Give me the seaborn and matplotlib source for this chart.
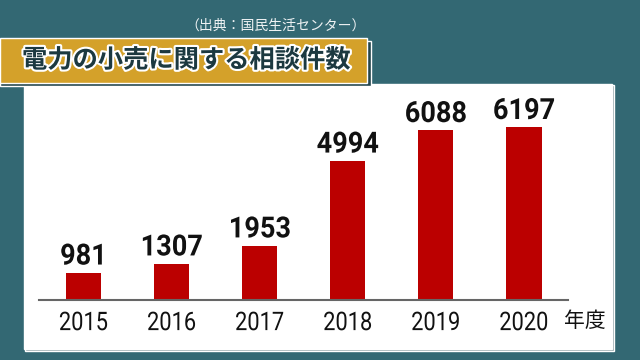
import matplotlib
matplotlib.use("Agg")
import matplotlib.pyplot as plt
import matplotlib.patheffects as pe
from matplotlib.patches import Rectangle
from matplotlib.transforms import Affine2D
import seaborn as sns
import pandas as pd

years = ["2015", "2016", "2017", "2018", "2019", "2020"]
counts = [981, 1307, 1953, 4994, 6088, 6197]
title = "電力の小売に関する相談件数"
source = "（出典：国民生活センター）"
unit = "年度"

sns.set_theme(style="white")
plt.rcParams['font.family'] = ['Noto Sans CJK JP', 'DejaVu Sans']

W, H = 640, 360
fig = plt.figure(figsize=(6.4, 3.6), dpi=100)
fig.patch.set_facecolor("#336873")


class Condense(pe.AbstractPathEffect):
    """Draw text horizontally condensed around its own centre."""
    def __init__(self, sx=0.76):
        super().__init__()
        self.sx = sx

    def draw_path(self, renderer, gc, tpath, affine, rgbFace=None):
        ext = tpath.get_extents()
        cx = (ext.x0 + ext.x1) / 2
        t = Affine2D().translate(-cx, 0).scale(self.sx, 1).translate(cx, 0) + affine
        renderer.draw_path(gc, tpath, t, rgbFace)


def px(x, y, w, h):
    return (x / W, 1 - (y + h) / H, w / W, h / H)

# panel shadow + white panel
x0, y0, w0, h0 = px(25, 85, 589, 266)
fig.patches.append(Rectangle((x0, y0), w0, h0, transform=fig.transFigure, facecolor="#8c9ea3", zorder=0))
x0, y0, w0, h0 = px(24, 84, 588, 265)
fig.patches.append(Rectangle((x0, y0), w0, h0, transform=fig.transFigure, facecolor="white", zorder=0))

# title box shadow + box
x0, y0, w0, h0 = px(0, 41, 371, 45)
fig.patches.append(Rectangle((x0, y0), w0, h0, transform=fig.transFigure, facecolor="#24454c", zorder=1))
x0, y0, w0, h0 = px(0, 38, 367, 45)
fig.patches.append(Rectangle((x0, y0), w0, h0, transform=fig.transFigure, facecolor="#d4a12a", zorder=1))

fig.text(22 / W, 1 - 60 / H, title, fontsize=18.2, fontweight="bold", color="#1c3940",
         ha="left", va="center", zorder=3,
         path_effects=[pe.withStroke(linewidth=3, foreground="white")])
fig.text(366 / W, 1 - 26 / H, source, fontsize=10, color="#eef2f3", ha="right", va="center", zorder=3)

# axes
ax = fig.add_axes(px(39.5, 107, 528.5, 193))
ax.set_zorder(2)
ax.set_facecolor("none")
df = pd.DataFrame({"year": years, "count": counts})
sns.barplot(data=df, x="year", y="count", color="#bb0000", width=0.4, saturation=1, ax=ax)
for p in ax.patches:
    p.set_edgecolor("none")
vlabels = ax.bar_label(ax.containers[0], labels=[str(c) for c in counts], padding=1.5,
                       fontsize=21, fontweight="bold", color="#111111", family=["Roboto", "DejaVu Sans"])
for t in vlabels:
    t.set_path_effects([Condense(0.93)])
ax.set_xlim(-0.5, 5.5)
ax.set_ylim(0, 6200 * 193 / 173)
ax.set_xlabel("")
ax.set_ylabel("")
ax.set_yticks([])
for s in ["top", "left", "right"]:
    ax.spines[s].set_visible(False)
ax.spines["bottom"].set_color("#666666")
ax.spines["bottom"].set_linewidth(1.5)
ax.set_xticks(range(len(years)))
ax.set_xticklabels(years, family=["Roboto", "DejaVu Sans"], fontsize=18.5, color="#111111")
for lab in ax.get_xticklabels():
    lab.set_path_effects([Condense(0.85)])
ax.tick_params(axis="x", which="major", length=0, pad=8)
ax.set_xticks([i - 0.5 for i in range(len(years) + 1)], minor=True)
ax.tick_params(axis="x", which="minor", direction="in", length=5, width=1.3, color="#666666")

fig.text(564 / W, 1 - 321 / H, unit, fontsize=15, color="#111111", ha="left", va="center", zorder=3)

fig.savefig("out.png", dpi=100, facecolor=fig.get_facecolor())
